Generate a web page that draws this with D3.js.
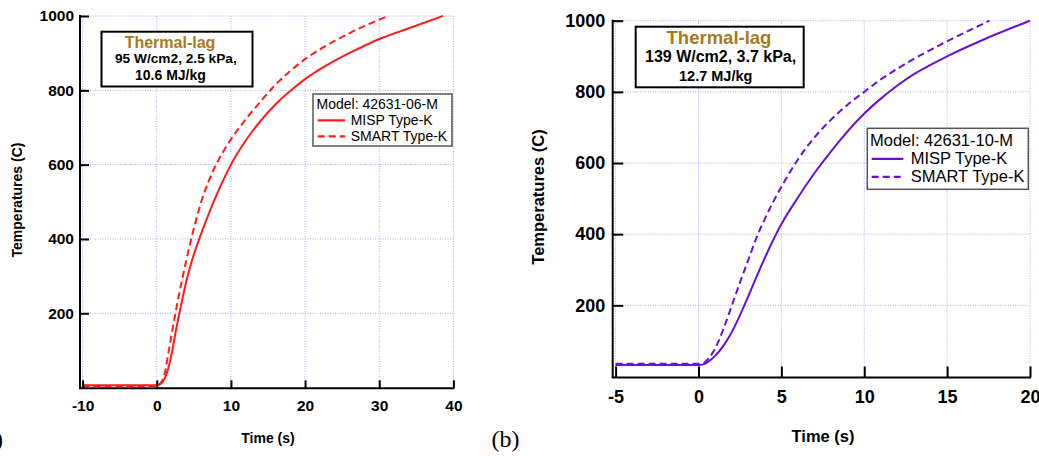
<!DOCTYPE html>
<html><head><meta charset="utf-8">
<script src="https://cdn.jsdelivr.net/npm/d3@7"></script>
<style>body{margin:0;background:#fff}svg{display:block}text{font-family:"Liberation Sans",Arial,sans-serif}</style>
</head><body>
<svg id="c" width="1039" height="456"></svg>
<script>
// ---------- Panel (a) data ----------
const timeA_misp  = [-10,-5,0,0.5,1,1.5,2,2.5,3,3.5,4,4.5,5,6,7,8,10,12,14,16,18.4,20,24,27,30,34,38.6];
const tempA_misp  = [6,6,6,10,22,48,90,145,195,243,287,325,358,415,467,515,600,665,718,762,805,830,880,910,938,967,1000];
const timeA_smart = [-10,-5,0,0.4,1,1.5,2,2.5,3,3.5,4,4.5,5,6,7,8,9,10,12,14,16,18,20,24,28,31.2];
const tempA_smart = [4,4,4,10,32,85,142,198,250,298,344,388,428,500,555,600,636,668,722,770,815,852,884,933,973,1000];
const xTicksA = [-10,0,10,20,30,40];
const yTicks  = [200,400,600,800,1000];
const seriesNames = ["MISP Type-K","SMART Type-K"];
const modelA = "Model: 42631-06-M";
const noteA = ["Thermal-lag","95 W/cm2, 2.5 kPa,","10.6 MJ/kg"];

// ---------- Panel (b) data ----------
const timeB_misp  = [-5,-2,0,0.3,0.6,1,1.5,2,2.5,3,3.5,4,4.5,5,6,7,8,10,11,12,13,14,15,17.35,20];
const tempB_misp  = [32,32,32,34,42,58,86,124,172,225,280,333,383,428,503,572,633,739,781,818,850,876,900,950,1000];
const timeB_smart = [-5,-2,0,0.3,0.6,0.9,1.2,1.5,2,2.5,3,3.5,4,4.5,5,5.5,6,7,8,9,10,11,12,13,14,15,17.55];
const tempB_smart = [36,36,36,38,50,70,98,133,198,264,327,390,443,490,533,573,610,672,722,764,800,835,865,893,918,942,1000];
const xTicksB = [-5,0,5,10,15,20];
const modelB = "Model: 42631-10-M";
const noteB = ["Thermal-lag","139 W/cm2, 3.7 kPa,","12.7 MJ/kg"];

const svg = d3.select("#c");
const fmt = d => String(d);

function panel(o){
  const g = svg.append("g");
  const x = d3.scaleLinear().domain(o.xDom).range(o.xRange);
  const y = d3.scaleLinear().domain([0,1000]).range(o.yRange);
  // grid
  const grid = g.append("g").attr("stroke","#a8a8f2").attr("stroke-width",1).attr("stroke-dasharray","1,1.5");
  o.xTicks.forEach(t=>grid.append("line").attr("x1",x(t)).attr("x2",x(t)).attr("y1",y(1000)).attr("y2",o.axisY));
  yTicks.forEach(t=>grid.append("line").attr("x1",o.axisX).attr("x2",x(o.xDom[1])).attr("y1",y(t)).attr("y2",y(t)));
  // lines
  const line = d3.line().x(d=>x(d[0])).y(d=>y(d[1])).curve(d3.curveMonotoneX);
  g.append("path").datum(d3.zip(o.tm, o.vm)).attr("d",line).attr("fill","none")
    .attr("stroke",o.color).attr("stroke-width",2);
  g.append("path").datum(d3.zip(o.ts, o.vs)).attr("d",line).attr("fill","none")
    .attr("stroke",o.color).attr("stroke-width",2).attr("stroke-dasharray","7,4");
  // axes
  const ax = g.append("g").attr("transform",`translate(0,${o.axisY})`)
    .call(d3.axisBottom(x).tickValues(o.xTicks).tickFormat(fmt).tickSizeInner(-o.tickX).tickSizeOuter(0).tickPadding(o.padX));
  const ay = g.append("g").attr("transform",`translate(${o.axisX},0)`)
    .call(d3.axisLeft(y).tickValues(yTicks).tickFormat(fmt).tickSizeInner(-o.tickY).tickSizeOuter(0).tickPadding(o.padY));
  [ax,ay].forEach(a=>{
    a.select(".domain").remove();
    a.selectAll(".tick line").attr("stroke","#000").attr("stroke-width",2);
    a.selectAll(".tick text").attr("fill","#000").style("font-size",o.tickFont+"px").style("font-weight","bold")
      .style("font-family",'"Liberation Sans",Arial,sans-serif');
  });
  g.append("line").attr("x1",o.axisX-1).attr("x2",x(o.xDom[1])+1).attr("y1",o.axisY).attr("y2",o.axisY).attr("stroke","#000").attr("stroke-width",2);
  g.append("line").attr("x1",o.axisX).attr("x2",o.axisX).attr("y1",y(1000)-1).attr("y2",o.axisY).attr("stroke","#000").attr("stroke-width",2);
  // axis titles
  g.append("text").attr("x",o.xLab[0]).attr("y",o.xLab[1]).attr("text-anchor","middle")
    .style("font-size",o.labFont+"px").style("font-weight","bold").text("Time (s)");
  g.append("text").attr("transform",`translate(${o.yLab[0]},${o.yLab[1]}) rotate(-90)`).attr("text-anchor","middle")
    .attr("dy","0.35em").style("font-size",o.labFont+"px").style("font-weight","bold").text("Temperatures (C)");
  // note box
  const n = o.note;
  g.append("rect").attr("x",n.box[0]).attr("y",n.box[1]).attr("width",n.box[2]).attr("height",n.box[3])
    .attr("fill","#fff").attr("stroke","#000").attr("stroke-width",2);
  g.append("text").attr("x",n.t1[0]).attr("y",n.t1[1]).attr("text-anchor","middle").attr("fill","#a67a1c")
    .style("font-size",n.f1+"px").style("font-weight","bold").text(o.noteText[0]);
  g.append("text").attr("x",n.t2[0]).attr("y",n.t2[1]).style("font-size",n.f2+"px").style("font-weight","bold").text(o.noteText[1]);
  g.append("text").attr("x",n.t3[0]).attr("y",n.t3[1]).style("font-size",n.f3+"px").style("font-weight","bold").text(o.noteText[2]);
  // legend
  const L = o.leg;
  g.append("rect").attr("x",L.box[0]).attr("y",L.box[1]).attr("width",L.box[2]).attr("height",L.box[3])
    .attr("fill","#fff").attr("stroke","#555").attr("stroke-width",1.5);
  g.append("text").attr("x",L.tx).attr("y",L.base[0]).style("font-size",L.f+"px").text(o.model);
  seriesNames.forEach((s,i)=>{
    g.append("line").attr("x1",L.lx[0]).attr("x2",L.lx[1]).attr("y1",L.base[i+1]-L.f*0.33).attr("y2",L.base[i+1]-L.f*0.33)
      .attr("stroke",o.color).attr("stroke-width",2.2).attr("stroke-dasharray",i? "7,4":null);
    g.append("text").attr("x",L.sx).attr("y",L.base[i+1]).style("font-size",L.f+"px").text(s);
  });
}

panel({xDom:[-10,40], xRange:[82.6,453.4], yRange:[387.6,16], axisX:80, axisY:388.3,
  xTicks:xTicksA, tickX:8, tickY:9, padX:11.5, padY:6, tickFont:15.5, labFont:14,
  xLab:[268,443], yLab:[17,200], color:"#ff1a1a",
  tm:timeA_misp, vm:tempA_misp, ts:timeA_smart, vs:tempA_smart,
  note:{box:[101.5,31.7,151,54.8], t1:[170,47.5], t2:[115,62.5], t3:[135,79.5], f1:16, f2:13.7, f3:14},
  noteText:noteA, model:modelA,
  leg:{box:[313,94,139,52], tx:316.5, base:[109,125,141], f:14, lx:[317.7,345], sx:350.7}
});

panel({xDom:[-5,20], xRange:[615.6,1030], yRange:[376.5,20.7], axisX:612.7, axisY:377.5,
  xTicks:xTicksB, tickX:11, tickY:10.5, padX:12.5, padY:7.5, tickFont:18, labFont:16.5,
  xLab:[823,442], yLab:[538.3,197], color:"#6a10d6",
  tm:timeB_misp, vm:tempB_misp, ts:timeB_smart, vs:tempB_smart,
  note:{box:[635.7,26.7,168,60.6], t1:[719,43.5], t2:[645,62], t3:[679,81], f1:18.5, f2:16, f3:14.5},
  noteText:noteB, model:modelB,
  leg:{box:[867.3,128.3,161,61], tx:870, base:[145.7,164.3,182.3], f:16.5, lx:[871.7,903.3], sx:910.7}
});

svg.append("text").attr("x",3).attr("y",447).attr("text-anchor","end")
  .style("font-family",'"Liberation Serif","Times New Roman",serif').style("font-size","24px").text("(a)");
svg.append("text").attr("x",491.5).attr("y",447)
  .style("font-family",'"Liberation Serif","Times New Roman",serif').style("font-size","24px").text("(b)");
</script>
</body></html>
